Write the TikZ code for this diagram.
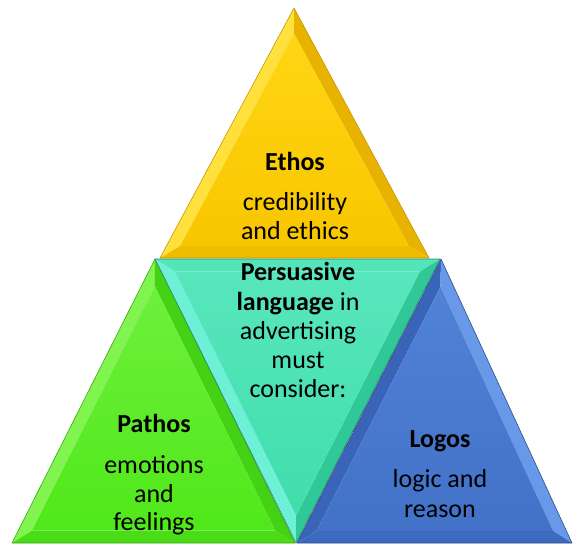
\documentclass[tikz,border=0pt]{standalone}
\usepackage{fontspec}
\setmainfont{Carlito}
\usetikzlibrary{calc}
\definecolor{yM}{RGB}{248,198,0}
\definecolor{yT}{RGB}{255,214,20}
\definecolor{yL}{RGB}{255,224,60}
\definecolor{yR}{RGB}{232,178,0}
\definecolor{yD}{RGB}{240,188,0}
\definecolor{gM}{RGB}{80,232,26}
\definecolor{gT}{RGB}{110,240,60}
\definecolor{gL}{RGB}{130,244,80}
\definecolor{gR}{RGB}{70,210,20}
\definecolor{gD}{RGB}{74,220,22}
\definecolor{tM}{RGB}{64,222,172}
\definecolor{tT}{RGB}{88,230,188}
\definecolor{tL}{RGB}{110,240,215}
\definecolor{tR}{RGB}{48,200,150}
\definecolor{tU}{RGB}{84,228,186}
\definecolor{bM}{RGB}{66,114,200}
\definecolor{bT}{RGB}{80,130,214}
\definecolor{bL}{RGB}{58,100,184}
\definecolor{bR}{RGB}{104,152,232}
\definecolor{bD}{RGB}{60,106,192}
\begin{document}
\begin{tikzpicture}[x=1pt,y=-1pt,
  txt/.style={font=\fontsize{26}{29}\selectfont, inner sep=0pt, anchor=base, text=black},
  edge/.style={line width=0.6pt, line join=round}]
\useasboundingbox (0,0) rectangle (573,544);

% ---------- Ethos (yellow) ----------
\coordinate (YA) at (294,8); \coordinate (YB) at (160,258); \coordinate (YC) at (429,258);
\coordinate (YI) at (294,178);
\coordinate (Ya) at ($(YI)!0.85!(YA)$);
\coordinate (Yb) at ($(YI)!0.85!(YB)$);
\coordinate (Yc) at ($(YI)!0.85!(YC)$);
\fill[yL] (YA) -- (YB) -- (Yb) -- (Ya) -- cycle;
\fill[yR] (YA) -- (YC) -- (Yc) -- (Ya) -- cycle;
\fill[yD] (YB) -- (YC) -- (Yc) -- (Yb) -- cycle;
\shade[top color=yT, bottom color=yM] (Ya) -- (Yb) -- (Yc) -- cycle;
\draw[edge, draw=yR!85!black] (YA) -- (YB) -- (YC) -- cycle;

% ---------- Pathos (green) ----------
\coordinate (GA) at (155,259); \coordinate (GB) at (12,543); \coordinate (GC) at (295,543);
\coordinate (GI) at (154,455);
\coordinate (Ga) at ($(GI)!0.86!(GA)$);
\coordinate (Gb) at ($(GI)!0.86!(GB)$);
\coordinate (Gc) at ($(GI)!0.86!(GC)$);
\fill[gL] (GA) -- (GB) -- (Gb) -- (Ga) -- cycle;
\fill[gR] (GA) -- (GC) -- (Gc) -- (Ga) -- cycle;
\fill[gD] (GB) -- (GC) -- (Gc) -- (Gb) -- cycle;
\shade[top color=gT, bottom color=gM] (Ga) -- (Gb) -- (Gc) -- cycle;
\draw[edge, draw=gR!80!black] (GA) -- (GB) -- (GC) -- cycle;

% ---------- centre (teal, inverted) ----------
\coordinate (TA) at (296,543); \coordinate (TB) at (155,259); \coordinate (TC) at (440,259);
\coordinate (TI) at (297,347);
\coordinate (Ta) at ($(TI)!0.86!(TA)$);
\coordinate (Tb) at ($(TI)!0.86!(TB)$);
\coordinate (Tc) at ($(TI)!0.86!(TC)$);
\fill[tL] (TA) -- (TB) -- (Tb) -- (Ta) -- cycle;
\fill[tR] (TA) -- (TC) -- (Tc) -- (Ta) -- cycle;
\fill[tU] (TB) -- (TC) -- (Tc) -- (Tb) -- cycle;
\shade[top color=tT, bottom color=tM] (Ta) -- (Tb) -- (Tc) -- cycle;
\draw[edge, draw=tR!70!black] (TA) -- (TB) -- (TC) -- cycle;

% ---------- Logos (blue) ----------
\coordinate (BA) at (441,259); \coordinate (BB) at (297,543); \coordinate (BC) at (572,543);
\coordinate (BI) at (437,457);
\coordinate (Ba) at ($(BI)!0.86!(BA)$);
\coordinate (Bb) at ($(BI)!0.86!(BB)$);
\coordinate (Bc) at ($(BI)!0.86!(BC)$);
\fill[bL] (BA) -- (BB) -- (Bb) -- (Ba) -- cycle;
\fill[bR] (BA) -- (BC) -- (Bc) -- (Ba) -- cycle;
\fill[bD] (BB) -- (BC) -- (Bc) -- (Bb) -- cycle;
\shade[top color=bT, bottom color=bM] (Ba) -- (Bb) -- (Bc) -- cycle;
\draw[edge, draw=bL!75!black] (BA) -- (BB) -- (BC) -- cycle;

% ---------- texts ----------
\node[txt] (e1) at (295,170) {\textbf{Ethos}};
\node[txt] (e2) at (295,210) {credibility};
\node[txt] (e3) at (295,239) {and ethics};

\node[txt] (p1) at (298,280) {\textbf{Persuasive}};
\node[txt] (p2) at (298,310) {\textbf{language} in};
\node[txt] (p3) at (298,339) {advertising};
\node[txt] (p4) at (298,368) {must};
\node[txt] (p5) at (298,397) {consider:};

\node[txt] (a1) at (154,432) {\textbf{Pathos}};
\node[txt] (a2) at (154,473) {emotions};
\node[txt] (a3) at (154,502) {and};
\node[txt] (a4) at (154,530) {feelings};

\node[txt] (l1) at (440,447) {\textbf{Logos}};
\node[txt] (l2) at (440,487) {logic and};
\node[txt] (l3) at (440,517) {reason};
\end{tikzpicture}
\end{document}
